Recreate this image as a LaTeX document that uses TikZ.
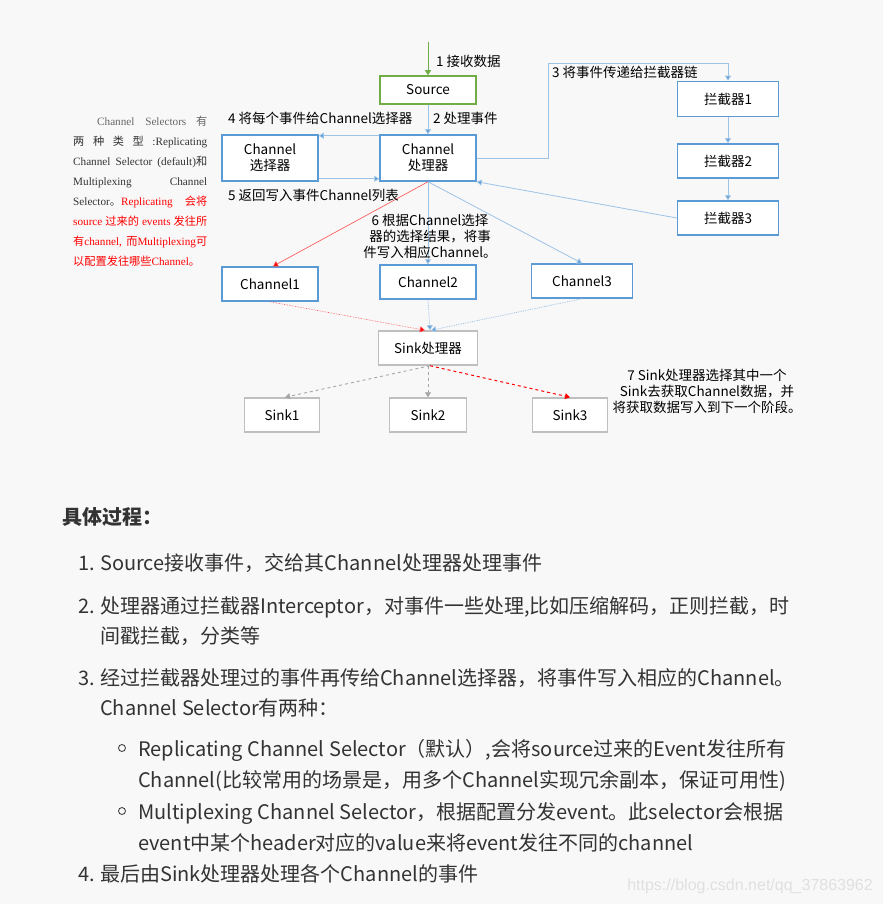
\documentclass[tikz,border=0pt]{standalone}
\usepackage{fontspec}
\setmainfont{Noto Sans CJK SC}
\newfontfamily\tnr{Liberation Serif}
\newfontfamily\lsans{Liberation Sans}
\usetikzlibrary{arrows.meta}
\definecolor{bgc}{HTML}{F8F8F8}
\definecolor{boxblue}{HTML}{5B9BD5}
\definecolor{lineblue}{HTML}{9DC3E6}
\definecolor{boxgreen}{HTML}{70AD47}
\definecolor{boxgray}{HTML}{BFBFBF}
\definecolor{dashgray}{HTML}{A6A6A6}
\definecolor{txt}{HTML}{333333}
\newcommand\en[1]{{\tnr #1}}

\begin{document}
\begin{tikzpicture}[x=1pt, y=-1pt, >={Triangle[length=5pt,width=6pt]},
  dg/.style={font=\fontsize{13.5}{16}\selectfont, text=black},
  bbox/.style={dg, draw=boxblue, line width=1.5pt, fill=white, align=center, inner sep=0},
  gbox/.style={bbox, draw=boxgray},
  lbl/.style={dg, anchor=west, inner sep=0},
  flow/.style={draw=lineblue, line width=0.8pt, ->, >={Triangle[length=5pt,width=6pt,fill=boxblue]}},
  rflow/.style={draw=red!70, line width=0.6pt, ->, >={Triangle[length=5pt,width=6pt,fill=red]}},
  body/.style={anchor=base west, inner sep=0, text=txt, font=\fontsize{20}{24}\selectfont}]
  \fill[bgc] (0,0) rectangle (883,904);
  \useasboundingbox (0,0) rectangle (883,904);

  % boxes
  \node[bbox, draw=boxgreen, minimum width=96pt, minimum height=28pt] (src) at (428,90) {Source};
  \node[bbox, minimum width=96pt, minimum height=46pt] (proc) at (428,158) {Channel\\处理器};
  \node[bbox, minimum width=96pt, minimum height=46pt] (sel) at (270,158) {Channel\\选择器};
  \node[bbox, minimum width=101pt, minimum height=35pt] (ic1) at (728,99) {拦截器1};
  \node[bbox, minimum width=101pt, minimum height=34pt] (ic2) at (728,161) {拦截器2};
  \node[bbox, minimum width=101pt, minimum height=34pt] (ic3) at (728,218) {拦截器3};
  \node[bbox, minimum width=96pt, minimum height=34pt] (ch1) at (270,284) {Channel1};
  \node[bbox, minimum width=96pt, minimum height=34pt] (ch2) at (428,282) {Channel2};
  \node[bbox, minimum width=101pt, minimum height=34pt] (ch3) at (582,281) {Channel3};
  \node[gbox, minimum width=99pt, minimum height=34pt] (sp) at (428,348) {Sink处理器};
  \node[gbox, minimum width=75pt, minimum height=34pt] (sk1) at (282,415) {Sink1};
  \node[gbox, minimum width=77pt, minimum height=34pt] (sk2) at (428,415) {Sink2};
  \node[gbox, minimum width=75pt, minimum height=34pt] (sk3) at (570,415) {Sink3};

  % connectors
  \coordinate (in) at (428,42);
  \coordinate (up) at (548,63);
  \draw[boxgreen, line width=1pt, ->, >={Triangle[length=5pt,width=6pt]}] (in) -- (src);
  \draw[flow] (src) -- (proc);
  \draw[flow] ([yshift=-1.5pt]proc.north west) -- ([yshift=-1.5pt]sel.north east);
  \draw[flow] ([yshift=3pt]sel.south east) -- ([yshift=3pt]proc.south west);
  \draw[flow] (proc.east) -| (up) -| (ic1.north);
  \draw[flow] (ic1) -- (ic2);
  \draw[flow] (ic2) -- (ic3);
  \draw[flow] (ic3.west) -- (proc.south east);
  \draw[rflow] (proc.south) -- ([xshift=3pt]ch1.north);
  \draw[flow] (proc.south) -- (ch2.north);
  \draw[flow] (proc.south) -- (ch3.north);
  \draw[rflow, densely dotted] (ch1.south) -- ([xshift=-3pt]sp.north);
  \draw[flow, densely dotted] (ch2.south) -- ([xshift=2pt]sp.north);
  \draw[flow, densely dotted] (ch3.south) -- ([xshift=3pt]sp.north);
  \draw[dashgray, line width=0.9pt, dashed, ->] ([xshift=2pt]sp.south) -- ([xshift=3pt]sk1.north);
  \draw[dashgray, line width=0.9pt, dashed, ->] (sp.south) -- (sk2.north);
  \draw[red, line width=1pt, dashed, ->] ([xshift=2pt]sp.south) -- (sk3.north);

  % labels
  \node[lbl] (l1) at (436,61) {1 接收数据};
  \node[lbl] (l2) at (433,118) {2 处理事件};
  \node[lbl] (l3) at (552,72) {3 将事件传递给拦截器链};
  \node[lbl] (l4) at (228,118) {4 将每个事件给Channel选择器};
  \node[lbl] (l5) at (228,195) {5 返回写入事件Channel列表};
  \node[dg, align=center, inner sep=0] (l6) at (430,236) {6 根据Channel选择\\器的选择结果，将事\\件写入相应Channel。};
  \node[dg, align=center, inner sep=0] (l7) at (707,391) {7 Sink处理器选择其中一个\\Sink去获取Channel数据，并\\将获取数据写入到下一个阶段。};

  % note on the left
  \node[anchor=north west, inner sep=0, text width=134pt, align=justify,
    font=\fontsize{11.2}{20}\selectfont, text=txt] (note) at (73,116)
    {\hspace*{24pt}{\color[HTML]{666666}\en{Channel Selectors} 有}\linebreak
     两 种 类 型 \en{:Replicating}\linebreak
     \en{Channel Selector (default)}和\linebreak
     \en{Multiplexing Channel}\linebreak
     \en{Selector}。{\color{red}\en{Replicating} 会将\linebreak
     \en{source} 过来的 \en{events} 发往所\linebreak
     有\en{channel,} 而\en{Multiplexing}可\linebreak
     以配置发往哪些\en{Channel}。}};

  % text below
  \node[body, font=\fontsize{20}{24}\selectfont\bfseries] (head) at (62,524) {具体过程：};
  \node[body] (n1) at (78,570) {1.};
  \node[body] (t1) at (100,570) {Source接收事件，交给其Channel处理器处理事件};
  \node[body] (n2) at (78,613) {2.};
  \node[body] (t2a) at (100,613) {处理器通过拦截器Interceptor，对事件一些处理,比如压缩解码，正则拦截，时};
  \node[body] (t2b) at (100,643) {间戳拦截，分类等};
  \node[body] (n3) at (78,685) {3.};
  \node[body] (t3a) at (100,685) {经过拦截器处理过的事件再传给Channel选择器，将事件写入相应的Channel。};
  \node[body] (t3b) at (100,715) {Channel Selector有两种：};
  \node[draw=txt, circle, inner sep=0, minimum size=7pt, line width=0.8pt] (b1) at (122,748) {};
  \node[body] (t4a) at (138,756) {Replicating Channel Selector（默认）,会将source过来的Event发往所有};
  \node[body] (t4b) at (138,787) {Channel(比较常用的场景是，用多个Channel实现冗余副本，保证可用性)};
  \node[draw=txt, circle, inner sep=0, minimum size=7pt, line width=0.8pt] (b2) at (122,811) {};
  \node[body] (t5a) at (138,819) {Multiplexing Channel Selector，根据配置分发event。此selector会根据};
  \node[body] (t5b) at (138,850) {event中某个header对应的value来将event发往不同的channel};
  \node[body] (n4) at (78,881) {4.};
  \node[body] (t6) at (100,881) {最后由Sink处理器处理各个Channel的事件};
  \node[anchor=base east, inner sep=0, text=black!12, font=\lsans\fontsize{16}{18}\selectfont] (wm) at (873,890) {https://blog.csdn.net/qq\_37863962};
\end{tikzpicture}
\end{document}
